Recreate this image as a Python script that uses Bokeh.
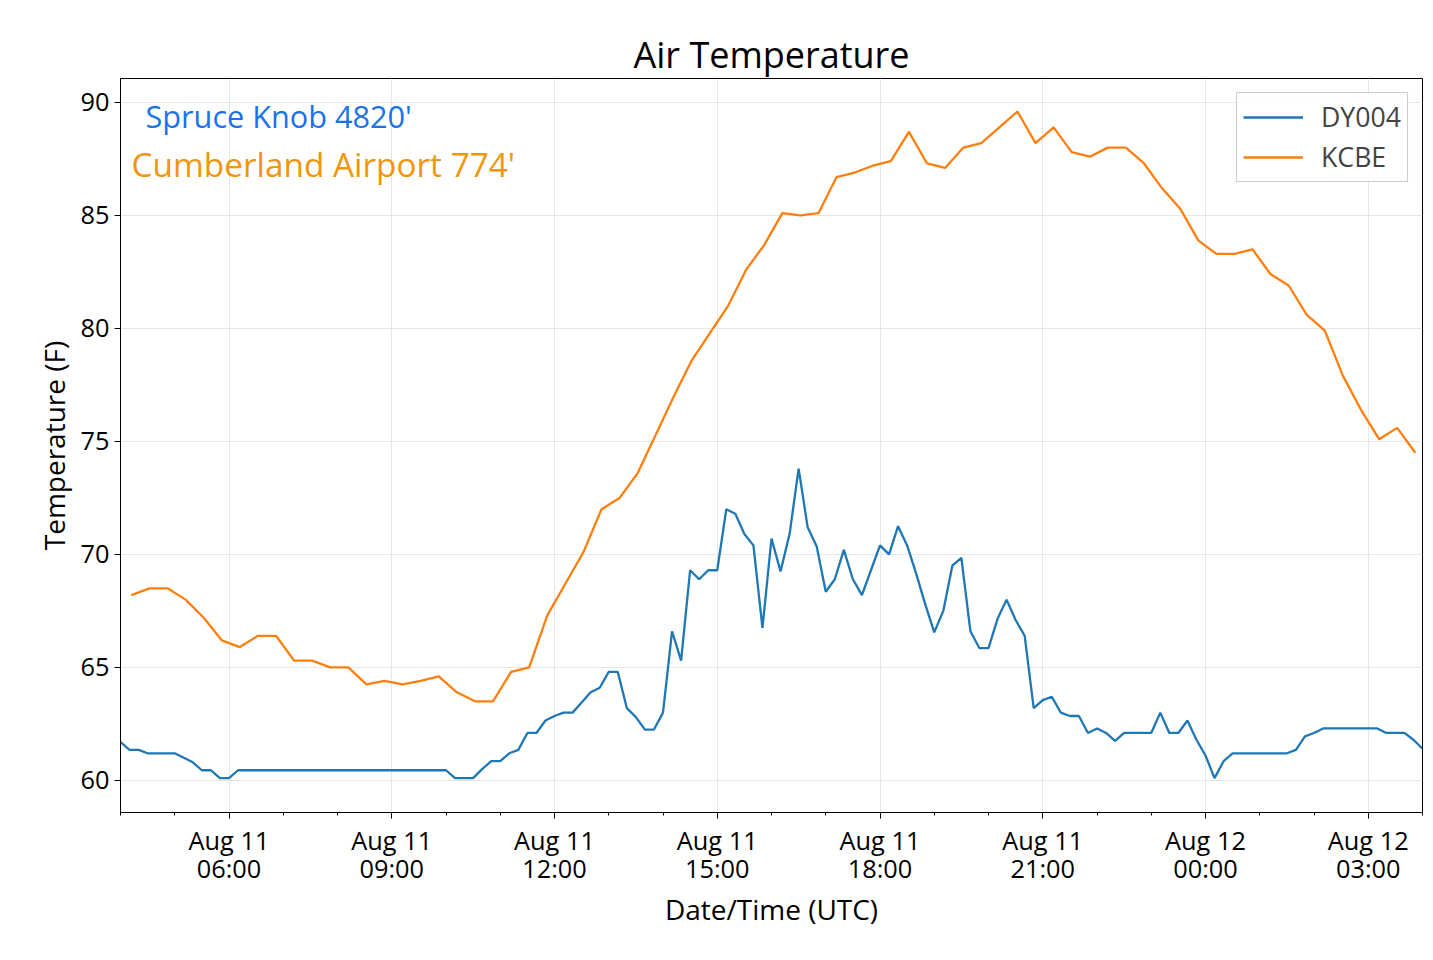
import pandas as pd
from bokeh.plotting import figure
from bokeh.models import Range1d, FixedTicker, DatetimeTickFormatter, Label, Legend, LegendItem
from bokeh.embed import file_html
from bokeh.resources import INLINE

dy004_start = "2019-08-11 04:00"
dy004_step = "10min"
dy004_temp = [61.7, 61.35, 61.35, 61.2, 61.2, 61.2, 61.2, 61.0, 60.8, 60.45,
              60.45, 60.1, 60.1, 60.45, 60.45, 60.45, 60.45, 60.45, 60.45, 60.45,
              60.45, 60.45, 60.45, 60.45, 60.45, 60.45, 60.45, 60.45, 60.45, 60.45,
              60.45, 60.45, 60.45, 60.45, 60.45, 60.45, 60.45, 60.1, 60.1, 60.1,
              60.5, 60.85, 60.85, 61.2, 61.35, 62.1, 62.1, 62.65, 62.85, 63.0,
              63.0, 63.45, 63.9, 64.1, 64.8, 64.8, 63.2, 62.8, 62.25, 62.25,
              63.0, 66.6, 65.3, 69.3, 68.9, 69.3, 69.3, 72.0, 71.8, 70.9,
              70.4, 66.75, 70.7, 69.25, 70.9, 73.8, 71.2, 70.35, 68.35, 68.9,
              70.2, 68.9, 68.2, 69.3, 70.4, 70.0, 71.25, 70.4, 69.15, 67.8,
              66.55, 67.5, 69.5, 69.85, 66.6, 65.85, 65.85, 67.15, 68.0, 67.1,
              66.4, 63.2, 63.55, 63.7, 63.0, 62.85, 62.85, 62.1, 62.3, 62.1,
              61.75, 62.1, 62.1, 62.1, 62.1, 63.0, 62.1, 62.1, 62.65, 61.8,
              61.1, 60.1, 60.85, 61.2, 61.2, 61.2, 61.2, 61.2, 61.2, 61.2,
              61.35, 61.95, 62.1, 62.3, 62.3, 62.3, 62.3, 62.3, 62.3, 62.3,
              62.1, 62.1, 62.1, 61.8, 61.4]

kcbe_start = "2019-08-11 04:12"
kcbe_step = "20min"
kcbe_temp = [68.2, 68.5, 68.5, 68.0, 67.2, 66.2, 65.9, 66.4, 66.4, 65.3,
             65.3, 65.0, 65.0, 64.25, 64.4, 64.25, 64.4, 64.6, 63.9, 63.5,
             63.5, 64.8, 65.0, 67.3, 68.7, 70.1, 72.0, 72.5, 73.6, 75.3,
             77.0, 78.6, 79.8, 81.0, 82.6, 83.7, 85.1, 85.0, 85.1, 86.7,
             86.9, 87.2, 87.4, 88.7, 87.3, 87.1, 88.0, 88.2, 88.9, 89.6,
             88.2, 88.9, 87.8, 87.6, 88.0, 88.0, 87.3, 86.2, 85.3, 83.9,
             83.3, 83.3, 83.5, 82.4, 81.9, 80.6, 79.9, 77.9, 76.4, 75.1,
             75.6, 74.5]

tick_times = ["2019-08-11 06:00", "2019-08-11 09:00", "2019-08-11 12:00", "2019-08-11 15:00",
              "2019-08-11 18:00", "2019-08-11 21:00", "2019-08-12 00:00", "2019-08-12 03:00"]
y_ticks = [60, 65, 70, 75, 80, 85, 90]

FONT = "Open Sans"
x_dy = pd.date_range(dy004_start, periods=len(dy004_temp), freq=dy004_step)
x_kc = pd.date_range(kcbe_start, periods=len(kcbe_temp), freq=kcbe_step)

def ms(t):
    return pd.Timestamp(t).value / 1e6

p = figure(width=1425, height=935, output_backend="svg", toolbar_location=None,
           x_axis_type="datetime",
           x_range=Range1d(ms("2019-08-11 04:00"), ms("2019-08-12 04:00")),
           y_range=Range1d(58.58, 91.06),
           min_border_left=120, min_border_right=3, min_border_top=78, min_border_bottom=123)

p.title.text = "Air Temperature"
p.title.align = "center"
p.title.text_font = FONT
p.title.text_font_size = "27pt"
p.title.text_font_style = "normal"
p.title.text_color = "black"
p.title.standoff = 0

l1 = p.line(x_dy, dy004_temp, line_color="#1f77b4", line_width=2.3)
l2 = p.line(x_kc, kcbe_temp, line_color="#ff7f0e", line_width=2.3)

major = [ms(t) for t in tick_times]
minor = [ms("2019-08-11 04:00") + h * 3600000 for h in range(25)]
p.xaxis.ticker = FixedTicker(ticks=major, minor_ticks=minor)
fmt = "%b %d\n%H:%M"
p.xaxis.formatter = DatetimeTickFormatter(hours=fmt, days=fmt, minutes=fmt, hourmin=fmt,
                                          months=fmt, years=fmt, milliseconds=fmt, seconds=fmt,
                                          minsec=fmt)
p.yaxis.ticker = FixedTicker(ticks=y_ticks)

for ax in (p.xaxis, p.yaxis):
    ax.major_label_text_font = FONT
    ax.major_label_text_font_size = "19pt"
    ax.major_label_text_color = "black"
    ax.axis_label_text_font = FONT
    ax.axis_label_text_font_size = "21pt"
    ax.axis_label_text_font_style = "normal"
    ax.axis_label_text_color = "black"
    ax.axis_line_color = "black"
    ax.major_tick_line_color = "black"
    ax.major_tick_out = 6
    ax.major_tick_in = 0
p.xaxis.major_label_text_line_height = 0.85
p.xaxis.minor_tick_out = 3
p.xaxis.minor_tick_in = 0
p.yaxis.minor_tick_line_color = None
p.xaxis.axis_label = "Date/Time (UTC)"
p.yaxis.axis_label = "Temperature (F)"
p.xaxis.axis_label_standoff = 2
p.xaxis.major_label_standoff = 4

p.outline_line_color = "black"
p.xgrid.grid_line_color = "#e6e6e6"
p.ygrid.grid_line_color = "#e6e6e6"

p.add_layout(Label(x=25, y=91.06, x_units="screen", y_offset=-58, text="Spruce Knob 4820'",
                   text_color="#1a73e8", text_font=FONT, text_font_size="23pt"))
p.add_layout(Label(x=11, y=91.06, x_units="screen", y_offset=-108, text="Cumberland Airport 774'",
                   text_color="#f0960a", text_font=FONT, text_font_size="25pt"))

legend = Legend(items=[LegendItem(label="DY004", renderers=[l1]),
                       LegendItem(label="KCBE", renderers=[l2])],
                location="top_right", label_text_font=FONT, label_text_font_size="20pt",
                glyph_width=60, border_line_color="#cccccc", border_line_alpha=1,
                margin=14, padding=6, spacing=4, label_standoff=18)
p.add_layout(legend)

open("out.html", "w").write(file_html(p, INLINE))
